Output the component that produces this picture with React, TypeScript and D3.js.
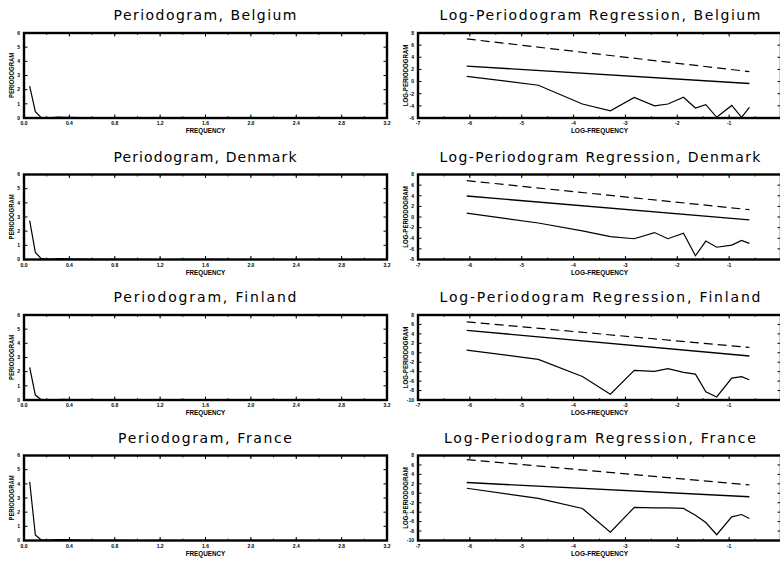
import React from "react";
import * as d3 from "d3";

// countries, one row each
const countries = ["Belgium", "Denmark", "Finland", "France"];

// periodogram (left column)
const freq = [0.05, 0.1, 0.15, 0.2, 0.25, 0.3, 0.35, 0.4, 0.5, 0.6, 0.8, 1.0, 1.2, 1.6, 2.0, 2.4, 2.8, 3.14];
const perBelgium = [2.25, 0.45, 0.04, 0.02, 0.03, 0.06, 0.04, 0.05, 0.02, 0.02, 0.01, 0.01, 0.01, 0.0, 0.01, 0.0, 0.0, 0.0];
const perDenmark = [2.75, 0.5, 0.08, 0.02, 0.03, 0.06, 0.07, 0.04, 0.02, 0.01, 0.01, 0.01, 0.0, 0.01, 0.0, 0.0, 0.0, 0.0];
const perFinland = [2.3, 0.35, 0.03, 0.02, 0.02, 0.03, 0.04, 0.03, 0.02, 0.01, 0.01, 0.0, 0.0, 0.0, 0.0, 0.0, 0.0, 0.0];
const perFrance = [4.15, 0.4, 0.05, 0.03, 0.04, 0.06, 0.06, 0.05, 0.02, 0.01, 0.01, 0.0, 0.0, 0.0, 0.0, 0.0, 0.0, 0.0];
const perTicks = [0, 1, 2, 3, 4, 5, 6];
const freqTicks = [0, 0.4, 0.8, 1.2, 1.6, 2.0, 2.4, 2.8, 3.2];

// log-periodogram regression (right column)
const logFreq = [-6.06, -4.68, -3.83, -3.29, -2.83, -2.44, -2.18, -1.88, -1.65, -1.45, -1.24, -0.95, -0.76, -0.61];
const logBelgium = [0.86, -0.6, -3.69, -4.82, -2.63, -4.0, -3.69, -2.58, -4.36, -3.81, -5.88, -3.93, -5.88, -4.25];
const logDenmark = [0.73, -1.13, -2.6, -3.7, -4.09, -2.93, -4.09, -3.05, -7.29, -4.53, -5.69, -5.3, -4.4, -4.97];
const logFinland = [0.56, -1.39, -5.01, -8.76, -3.71, -3.93, -3.35, -4.14, -4.51, -8.26, -9.35, -5.38, -5.07, -5.72];
const logFrance = [1.07, -1.07, -3.21, -8.22, -3.0, -3.08, -3.08, -3.21, -4.65, -6.2, -8.78, -5.0, -4.5, -5.35];
const fitRange = [-6.06, -0.61];
const fitBelgium = [2.55, -0.32];
const fitDenmark = [3.95, -0.54];
const fitFinland = [4.75, -0.67];
const fitFrance = [2.27, -0.73];
const boundBelgium = [7.03, 1.64];
const boundDenmark = [6.84, 1.38];
const boundFinland = [6.55, 1.13];
const boundFrance = [7.13, 1.78];
const logYMin = [-6, -8, -10, -10];
const logYMax = [8, 8, 8, 8];
const logFreqTicks = [-7, -6, -5, -4, -3, -2, -1];

const perSeries = [perBelgium, perDenmark, perFinland, perFrance];
const logSeries = [logBelgium, logDenmark, logFinland, logFrance];
const fitSeries = [fitBelgium, fitDenmark, fitFinland, fitFrance];
const boundSeries = [boundBelgium, boundDenmark, boundFinland, boundFrance];

const W = 780, H = 561;
const rowTops = [33, 174.5, 315, 455.5];
const boxH = 85;
const FONT = "'DejaVu Sans', sans-serif";
const LBL = "'Liberation Sans', Arial, sans-serif";

function Frame({ x, y, xTicks, xMinor, yTicks, labels, yLabels, xTitle, yTitle, children }: any) {
  const [x0, x1] = x.range();
  const [y0, y1] = y.range(); // y0 bottom, y1 top
  return (
    <g>
      {children}
      {xMinor.map((t: number, i: number) => (
        <g key={"m" + i}>
          <line x1={x(t)} x2={x(t)} y1={y0} y2={y0 - 2} stroke="#000" strokeWidth={0.8} />
          <line x1={x(t)} x2={x(t)} y1={y1} y2={y1 + 2} stroke="#000" strokeWidth={0.8} />
        </g>
      ))}
      {xTicks.map((t: number, i: number) => (
        <g key={"x" + i}>
          <line x1={x(t)} x2={x(t)} y1={y0} y2={y0 - 3.5} stroke="#000" strokeWidth={1} />
          <line x1={x(t)} x2={x(t)} y1={y1} y2={y1 + 3.5} stroke="#000" strokeWidth={1} />
          <text x={x(t)} y={y0 + 7} fontSize={5} fontWeight="bold" fontFamily={LBL} textAnchor="middle">
            {labels[i]}
          </text>
        </g>
      ))}
      {yTicks.map((t: number, i: number) => (
        <g key={"y" + i}>
          <line x1={x0} x2={x0 + 3.5} y1={y(t)} y2={y(t)} stroke="#000" strokeWidth={1} />
          <line x1={x1} x2={x1 - 3.5} y1={y(t)} y2={y(t)} stroke="#000" strokeWidth={1} />
          <text x={x0 - 4} y={y(t) + 1.8} fontSize={5} fontWeight="bold" fontFamily={LBL} textAnchor="end">
            {yLabels[i]}
          </text>
        </g>
      ))}
      <rect x={x0} y={y1} width={x1 - x0} height={y0 - y1} fill="none" stroke="#000" strokeWidth={2.4} />
      <text x={(x0 + x1) / 2} y={y0 + 15} fontSize={6.5} fontWeight="bold" fontFamily={LBL} textAnchor="middle"
        textLength={xTitle.length * 4.4} lengthAdjust="spacingAndGlyphs">
        {xTitle}
      </text>
      <text transform={`translate(${x0 - 10},${(y0 + y1) / 2}) rotate(-90)`} fontSize={6.5} fontWeight="bold"
        fontFamily={LBL} textAnchor="middle" textLength={yTitle.length * 4.1} lengthAdjust="spacingAndGlyphs">
        {yTitle}
      </text>
    </g>
  );
}

function Row({ idx }: { idx: number }) {
  const top = rowTops[idx];
  const bottom = top + boxH;
  const country = countries[idx];

  // left: periodogram
  const xL = d3.scaleLinear().domain([0, 3.2]).range([24, 387]);
  const yL = d3.scaleLinear().domain([0, 6]).range([bottom, top]);
  const perLine = d3.line<number>().x((_, i) => xL(freq[i])).y((d) => yL(d));
  const minorL = d3.range(0, 3.21, 0.2);

  // right: log-periodogram regression
  const xR = d3.scaleLinear().domain([-7, 0]).range([418, 781]);
  const yR = d3.scaleLinear().domain([logYMin[idx], logYMax[idx]]).range([bottom, top]);
  const logLine = d3.line<number>().x((_, i) => xR(logFreq[i])).y((d) => yR(d));
  const twoPt = d3.line<number>().x((_, i) => xR(fitRange[i])).y((d) => yR(d));
  const yTicksR = d3.range(logYMin[idx], logYMax[idx] + 1, 2);
  const minorR = d3.range(-7, 0.01, 0.5);

  const titleL = `Periodogram, ${country}`;
  const titleR = `Log-Periodogram Regression, ${country}`;

  return (
    <g>
      <text x={205} y={top - 13} fontSize={14} fontFamily={FONT} textAnchor="middle"
        textLength={titleL.length * 9.15} lengthAdjust="spacing">{titleL}</text>
      <text x={600} y={top - 13} fontSize={14} fontFamily={FONT} textAnchor="middle"
        textLength={titleR.length * 9.17} lengthAdjust="spacing">{titleR}</text>

      <Frame x={xL} y={yL} xTicks={freqTicks} xMinor={minorL} yTicks={perTicks}
        labels={freqTicks.map((t) => t.toFixed(1))} yLabels={perTicks.map(String)}
        xTitle="FREQUENCY" yTitle="PERIODOGRAM">
        <path d={perLine(perSeries[idx]) || ""} fill="none" stroke="#000" strokeWidth={1.2} />
      </Frame>

      <Frame x={xR} y={yR} xTicks={logFreqTicks} xMinor={minorR} yTicks={yTicksR}
        labels={logFreqTicks.map(String)} yLabels={yTicksR.map(String)}
        xTitle="LOG-FREQUENCY" yTitle="LOG-PERIODOGRAM">
        <path d={twoPt(boundSeries[idx]) || ""} fill="none" stroke="#000" strokeWidth={1.2} strokeDasharray="9,5" />
        <path d={twoPt(fitSeries[idx]) || ""} fill="none" stroke="#000" strokeWidth={1.4} />
        <path d={logLine(logSeries[idx]) || ""} fill="none" stroke="#000" strokeWidth={1.2} />
      </Frame>
    </g>
  );
}

export default function App() {
  return (
    <svg width={W} height={H} style={{ position: "absolute", left: 0, top: 0, background: "#fff" }}>
      <rect width={W} height={H} fill="#fff" />
      {countries.map((_, i) => (
        <Row key={i} idx={i} />
      ))}
    </svg>
  );
}
